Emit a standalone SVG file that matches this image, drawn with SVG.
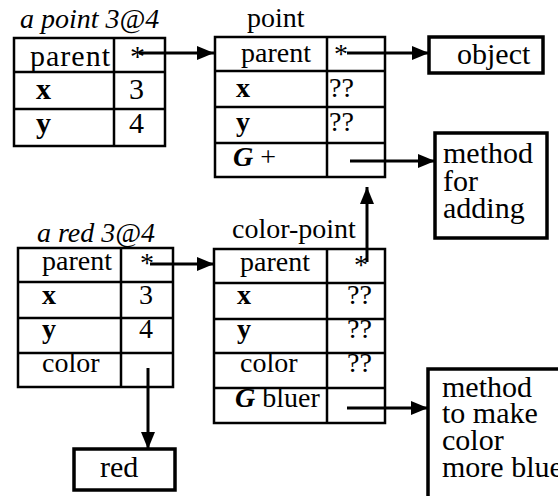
<svg xmlns="http://www.w3.org/2000/svg" width="558" height="496" viewBox="0 0 558 496" font-family="Liberation Serif, Times New Roman, serif">
  <style>
    text { font-size: 28px; fill: #000; }
    .title { font-style: italic; }
    .big { font-size: 30px; }
    .b { font-weight: bold; }
    .g { font-weight: bold; font-style: italic; }
    .tbl { fill: #fff; stroke: #000; stroke-width: 2.5; }
    .div { stroke: #000; stroke-width: 2.5; fill: none; }
    .box { fill: #fff; stroke: #000; stroke-width: 3.5; }
    .link { stroke: #000; stroke-width: 3; fill: none; marker-end: url(#head); }
  </style>
  <defs>
    <marker id="head" markerUnits="userSpaceOnUse" markerWidth="18" markerHeight="14" refX="17" refY="7" orient="auto">
      <path d="M0,0 L17,7 L0,14 Z" fill="#000"/>
    </marker>
  </defs>
  <rect width="558" height="496" fill="#fff"/>

  <!-- instance: a point 3@4 -->
  <g id="a-point">
    <text class="title" x="20" y="28">a point 3@4</text>
    <rect class="tbl" x="14" y="38" width="151" height="108"/>
    <path class="div" d="M114,38 V146 M14,72 H165 M14,109 H165"/>
    <text class="big" x="30" y="66" textLength="80">parent</text>
    <text class="big" x="130" y="66">*</text>
    <text class="b big" x="36" y="99">x</text>
    <text class="big" x="129" y="99">3</text>
    <text class="b big" x="36" y="133">y</text>
    <text class="big" x="129" y="133">4</text>
  </g>

  <!-- class: point -->
  <g id="point">
    <text x="247" y="27">point</text>
    <rect class="tbl" x="215" y="37" width="170" height="140"/>
    <path class="div" d="M327,37 V177 M215,71 H385 M215,107 H385 M215,143 H385"/>
    <text x="241" y="62">parent</text>
    <text x="334" y="63">*</text>
    <text class="b" x="236" y="97">x</text>
    <text x="329" y="97">??</text>
    <text class="b" x="236" y="131">y</text>
    <text x="329" y="131">??</text>
    <text x="233" y="166"><tspan class="g">G</tspan> +</text>
  </g>

  <!-- root: object -->
  <g id="object">
    <rect class="box" x="429" y="37" width="114" height="36"/>
    <text class="big" x="457" y="64">object</text>
  </g>

  <!-- method body for + -->
  <g id="method-adding">
    <rect class="box" x="435" y="133" width="112" height="105"/>
    <text class="big" x="443" y="163">method</text>
    <text class="big" x="443" y="191">for</text>
    <text class="big" x="443" y="218">adding</text>
  </g>

  <!-- instance: a red 3@4 -->
  <g id="a-red">
    <text class="title" x="37" y="242">a red 3@4</text>
    <rect class="tbl" x="18" y="248" width="155" height="139"/>
    <path class="div" d="M121,248 V387 M18,282 H173 M18,318 H173 M18,353 H173"/>
    <text x="42" y="270">parent</text>
    <text x="140" y="272">*</text>
    <text class="b" x="42" y="304">x</text>
    <text x="139" y="304">3</text>
    <text class="b" x="42" y="338">y</text>
    <text x="139" y="338">4</text>
    <text x="42" y="372">color</text>
  </g>

  <!-- class: color-point -->
  <g id="color-point">
    <text x="232" y="238">color-point</text>
    <rect class="tbl" x="214" y="249" width="171" height="174"/>
    <path class="div" d="M327,249 V423 M214,283 H385 M214,319 H385 M214,353 H385 M214,388 H385"/>
    <text x="240" y="271">parent</text>
    <text x="354" y="274">*</text>
    <text class="b" x="237" y="304">x</text>
    <text x="347" y="304">??</text>
    <text class="b" x="237" y="338">y</text>
    <text x="347" y="338">??</text>
    <text x="240" y="372">color</text>
    <text x="347" y="372">??</text>
    <text x="235" y="407"><tspan class="g">G</tspan> bluer</text>
  </g>

  <!-- value: red -->
  <g id="red">
    <rect class="box" x="74" y="449" width="101" height="41"/>
    <text class="big" x="100" y="477">red</text>
  </g>

  <!-- method body for bluer -->
  <g id="method-bluer">
    <rect class="box" x="428" y="369" width="150" height="150"/>
    <text class="big" x="442" y="397">method</text>
    <text class="big" x="442" y="423">to make</text>
    <text class="big" x="442" y="450">color</text>
    <text class="big" x="442" y="477">more blue</text>
  </g>

  <!-- pointers -->
  <g id="connectors">
    <path class="link" d="M139,53 H214"/>
    <path class="link" d="M347,53 H429"/>
    <path class="link" d="M350,161 H435"/>
    <path class="link" d="M367,262 V187"/>
    <path class="link" d="M148,368 V449"/>
    <path class="link" d="M150,264 H214"/>
    <path class="link" d="M347,408 H428"/>
  </g>
</svg>
